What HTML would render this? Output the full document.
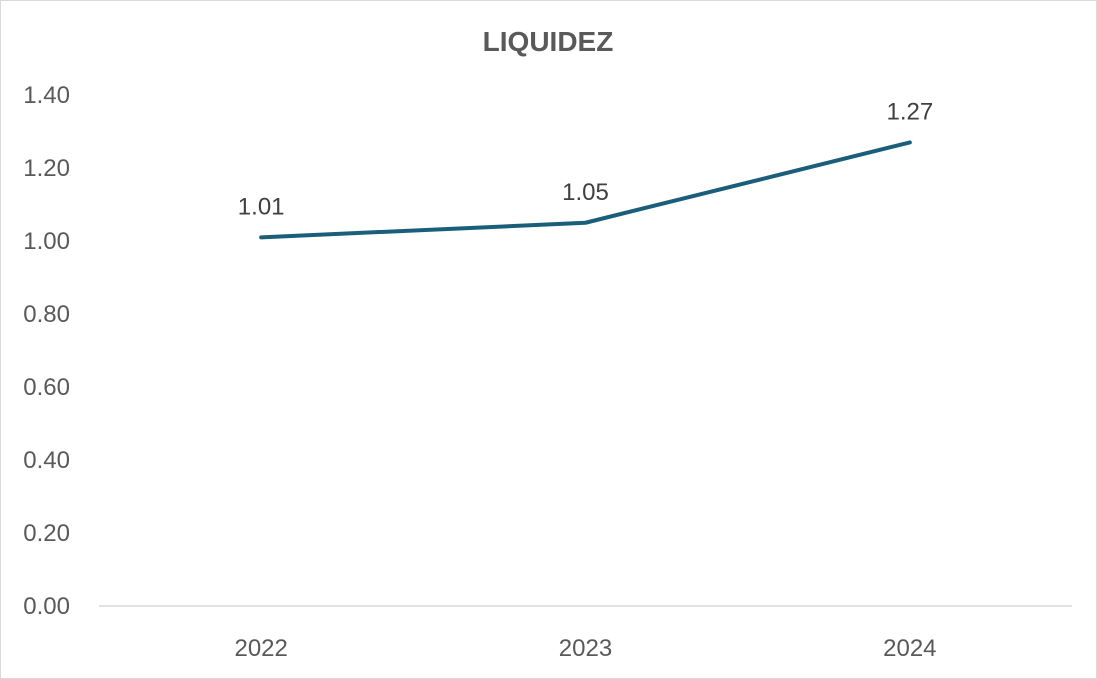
<!DOCTYPE html>
<html><head><meta charset="utf-8"><style>
body{margin:0;background:#fff}
svg{display:block;font-family:"Liberation Sans",sans-serif}
</style></head><body>
<svg id="c" width="1097" height="679">
<rect x="0.5" y="0.5" width="1096" height="678" fill="#fff" stroke="#d9d9d9"/>
<text x="548" y="51" text-anchor="middle" font-size="28" font-weight="bold" fill="#595959">LIQUIDEZ</text>
<g id="g"></g>
</svg>
<script>
const categories=["2022","2023","2024"];
const values=[1.01,1.05,1.27];
const valueLabels=["1.01","1.05","1.27"];
const yTicks=[0,0.2,0.4,0.6,0.8,1.0,1.2,1.4];
const yTickLabels=["0.00","0.20","0.40","0.60","0.80","1.00","1.20","1.40"];
const NS="http://www.w3.org/2000/svg";
const g=document.getElementById('g');
const L=99,R=1072,Y0=606,Y1=95;
const y=v=>Y0-(v/1.4)*(Y0-Y1);
const x=i=>L+(R-L)/categories.length*(i+0.5);
function mk(t,a){const e=document.createElementNS(NS,t);for(const k in a)e.setAttribute(k,a[k]);g.appendChild(e);return e;}
yTicks.forEach((v,i)=>{const t=mk('text',{x:70,y:y(v)+8,'text-anchor':'end','font-size':24,fill:'#595959'});t.textContent=yTickLabels[i];

});
const ax=mk('line',{x1:L,x2:R,y1:Y0,y2:Y0,stroke:'#d9d9d9','stroke-width':1.5});


categories.forEach((c,i)=>{const t=mk('text',{x:x(i),y:656,'text-anchor':'middle','font-size':24,fill:'#595959'});t.textContent=c;

});
const p=mk('polyline',{points:values.map((v,i)=>x(i)+','+y(v)).join(' '),fill:'none',stroke:'#1b5e7b','stroke-width':4,'stroke-linecap':'round','stroke-linejoin':'round'});


values.forEach((v,i)=>{const t=mk('text',{x:x(i),y:y(v)-23,'text-anchor':'middle','font-size':24,fill:'#404040'});t.textContent=valueLabels[i];

});
</script>
</body></html>
